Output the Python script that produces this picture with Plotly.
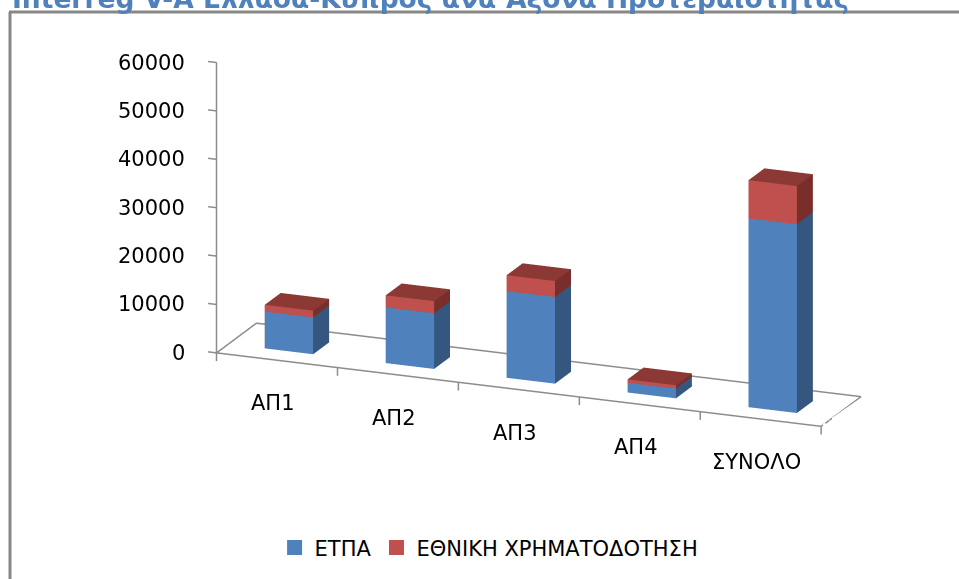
import plotly.graph_objects as go

categories = ["ΑΠ1", "ΑΠ2", "ΑΠ3", "ΑΠ4", "ΣΥΝΟΛΟ"]
etpa = [7600, 11500, 17900, 2000, 39000]
ethniki = [1400, 2500, 3300, 700, 7900]
series_names = ["ΕΤΠΑ", "ΕΘΝΙΚΗ ΧΡΗΜΑΤΟΔΟΤΗΣΗ"]
z_ticks = [0, 10000, 20000, 30000, 40000, 50000, 60000]
title_text = "Interreg V-A Ελλάδα-Κύπρος ανά Άξονα Προτεραιότητας"

BLUE = ["#4F81BD", "#34567F", "#3D6699"]
RED = ["#C0504D", "#7A2E2C", "#8C3936"]
AXIS_COL = "#8C8C8C"

BAR_W = 0.4
BAR_D = 0.4
DEPTH = 1.0
ZMAX = 60000
ZTICK = 1700      # length of category tick marks (value units)
XTICK = 0.07      # length of value tick marks (category units)


def boxes(bases, heights, colors):
    front, side, top = colors
    xs, ys, zs, I, J, K, fc = [], [], [], [], [], [], []
    for i, (b, h) in enumerate(zip(bases, heights)):
        x0, x1 = i - BAR_W / 2, i + BAR_W / 2
        y0, y1 = (DEPTH - BAR_D) / 2, (DEPTH + BAR_D) / 2
        z0, z1 = b, b + h
        n = len(xs)
        verts = [(x0, y0, z0), (x1, y0, z0), (x1, y1, z0), (x0, y1, z0),
                 (x0, y0, z1), (x1, y0, z1), (x1, y1, z1), (x0, y1, z1)]
        for v in verts:
            xs.append(v[0]); ys.append(v[1]); zs.append(v[2])
        faces = [((0, 1, 5), front), ((0, 5, 4), front),
                 ((1, 2, 6), side), ((1, 6, 5), side),
                 ((4, 5, 6), top), ((4, 6, 7), top),
                 ((3, 2, 6), side), ((3, 6, 7), side),
                 ((0, 3, 7), side), ((0, 7, 4), side),
                 ((0, 1, 2), side), ((0, 2, 3), side)]
        for (a, bb, c), col in faces:
            I.append(n + a); J.append(n + bb); K.append(n + c); fc.append(col)
    return go.Mesh3d(x=xs, y=ys, z=zs, i=I, j=J, k=K, facecolor=fc,
                     flatshading=True, showlegend=False, hoverinfo="skip",
                     lighting=dict(ambient=1, diffuse=0, specular=0,
                                   roughness=1, fresnel=0))


fig = go.Figure()
fig.add_trace(boxes([0] * len(etpa), etpa, BLUE))
fig.add_trace(boxes(etpa, ethniki, RED))

n = len(categories)
x_lo = -0.5
x_hi = n - 0.5

# floor outline, value axis line and tick marks
lx, ly, lz = [], [], []
for px, py in [(x_lo, 0), (x_hi, 0), (x_hi, DEPTH), (x_lo, DEPTH), (x_lo, 0)]:
    lx.append(px); ly.append(py); lz.append(0)
lx += [None, x_lo, x_lo]; ly += [None, 0, 0]; lz += [None, 0, ZMAX]
for t in z_ticks:
    lx += [None, x_lo, x_lo - XTICK]; ly += [None, 0, 0]; lz += [None, t, t]
for k in range(n + 1):
    lx += [None, k - 0.5, k - 0.5]; ly += [None, 0, 0]; lz += [None, 0, -ZTICK]
fig.add_trace(go.Scatter3d(x=lx, y=ly, z=lz, mode="lines",
                           line=dict(color=AXIS_COL, width=3),
                           connectgaps=False, showlegend=False,
                           hoverinfo="skip"))

# legend entries
for name, col in zip(series_names, [BLUE[0], RED[0]]):
    fig.add_trace(go.Scatter3d(x=[None], y=[None], z=[None], mode="markers",
                               marker=dict(symbol="square", size=15, color=col),
                               name=name))

axis_common = dict(showgrid=False, zeroline=False, showbackground=False,
                   showspikes=False, showline=False, showticklabels=False,
                   ticks="", title=dict(text=""))

label_font = dict(family="DejaVu Sans", size=21, color="black")
scene_annots = [dict(x=i, y=0, z=0, text=c, showarrow=False, xshift=-4,
                     yshift=-43, font=label_font)
                for i, c in enumerate(categories)]
scene_annots += [dict(x=x_lo, y=0, z=t, text=str(t), showarrow=False,
                      xanchor="right", xshift=-30, font=label_font)
                 for t in z_ticks]

fig.update_layout(
    width=959, height=579,
    margin=dict(l=0, r=0, t=0, b=0),
    paper_bgcolor="white",
    font=dict(family="DejaVu Sans", color="black", size=20),
    scene=dict(
        domain=dict(x=[0.0, 1.0], y=[0.19, 1.0]),
        xaxis=dict(range=[x_lo - XTICK, x_hi], **axis_common),
        yaxis=dict(range=[0, DEPTH], **axis_common),
        zaxis=dict(range=[-ZTICK, ZMAX], **axis_common),
        aspectmode="manual",
        aspectratio=dict(x=2.82, y=0.454, z=1.335),
        camera=dict(eye=dict(x=0.855, y=-2.7425, z=0.897),
                    center=dict(x=-0.2172, y=-0.0895, z=-0.0053),
                    projection=dict(type="orthographic")),
        annotations=scene_annots,
    ),
    legend=dict(orientation="h", x=0.51, xanchor="center", y=0.054,
                yanchor="middle", font=dict(size=21)),
    annotations=[dict(text="<b>" + title_text + "</b>", xref="paper",
                      yref="paper", x=10 / 959, xanchor="left", y=1.0,
                      yanchor="middle", yshift=2, showarrow=False,
                      font=dict(family="DejaVu Sans", size=26.5,
                                color="#4F81BD"))],
    shapes=[
        dict(type="line", xref="paper", yref="paper", x0=9 / 959, x1=1.0,
             y0=1 - 12 / 579, y1=1 - 12 / 579,
             line=dict(color="#878787", width=3)),
        dict(type="line", xref="paper", yref="paper", x0=10 / 959,
             x1=10 / 959, y0=0, y1=1 - 12 / 579,
             line=dict(color="#878787", width=3)),
    ],
)

fig.write_html("out.html", config={"displayModeBar": False},
               post_script="document.body.style.margin='0';")
